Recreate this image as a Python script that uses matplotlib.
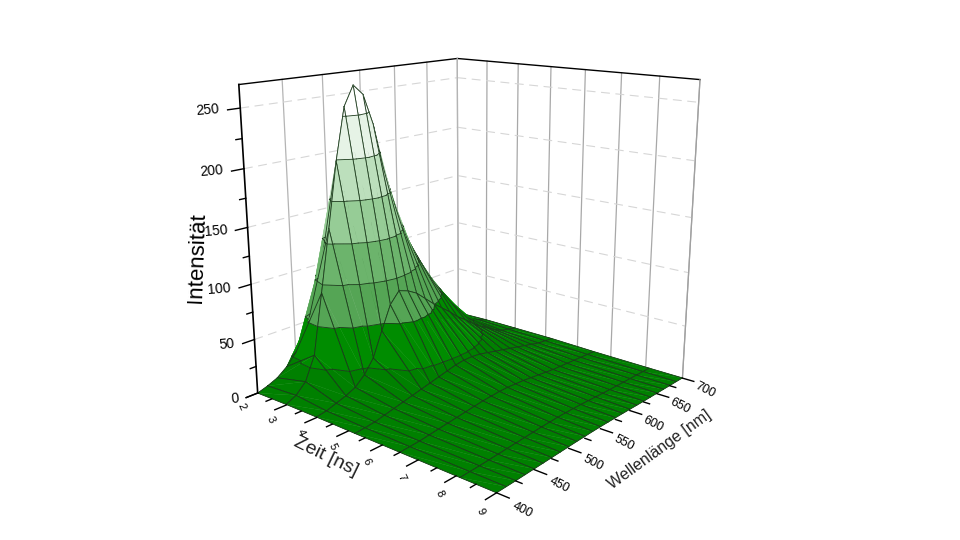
import numpy as np
import matplotlib
matplotlib.use('Agg')
import matplotlib.pyplot as plt
from mpl_toolkits.mplot3d import proj3d
from mpl_toolkits.mplot3d.art3d import Poly3DCollection

plt.rcParams['font.family'] = ['Liberation Sans', 'DejaVu Sans']

# Data
zeit = [2, 3, 4, 5.2, 6.5, 8.1, 9]
wellenlaenge = [400 + 12.5 * i for i in range(25)]
i_t2 = [0, 3, 7, 14, 24, 35, 49, 63, 75, 83, 77, 65, 51, 39, 30, 22, 16, 12, 9, 7, 5, 4, 3, 2, 1]
i_t3 = [0.5, 5, 14, 35, 89, 144, 201, 246, 263, 254, 227, 187, 156, 128, 108, 91, 75, 61, 47, 33, 24, 15, 9, 5, 2]
i_t4 = [0.5, 2, 5, 8, 12, 20, 32, 54, 75, 85, 82, 77, 69, 61, 54, 47, 39, 33, 26, 20, 15, 10, 6, 4, 2]
i_t5 = [0.2, 1, 2, 4, 6, 8, 10, 12, 14, 16, 18, 20, 21, 21, 20, 18, 16, 14, 12, 10, 8, 6, 4, 3, 2]
i_t6 = [0.1, 0.5, 1, 2, 3, 4, 5, 6, 7, 8, 8.5, 9, 9, 8.5, 8, 7, 6, 5, 4, 3.5, 3, 2.5, 2, 1.5, 1]
i_t8 = [0, 0.2, 0.4, 0.8, 1.2, 1.6, 2, 2.4, 2.8, 3.2, 3.4, 3.6, 3.6, 3.4, 3.2, 2.8, 2.4, 2, 1.6, 1.4, 1.2, 1, 0.8, 0.6, 0.4]
i_t9 = [0, 0.1, 0.2, 0.4, 0.6, 0.8, 1, 1.2, 1.4, 1.6, 1.7, 1.8, 1.8, 1.7, 1.6, 1.4, 1.2, 1, 0.8, 0.7, 0.6, 0.5, 0.4, 0.3, 0.2]
levels = [0, 25, 60, 96, 131, 167, 202, 238, 269]
band_colors = ['#008000', '#008c00', '#55a555', '#6cb46c', '#96cc96', '#bcdfbc', '#e6f3e6', '#ffffff']
zeit_ticks = [2, 3, 4, 5, 6, 7, 8, 9]
wl_ticks = [400, 450, 500, 550, 600, 650, 700]
int_ticks = [0, 50, 100, 150, 200, 250]

t_min, t_max, w_min, w_max, z_top = 2, 9, 400, 700, 269

fig = plt.figure(figsize=(9.6, 5.4), dpi=100)
ax = fig.add_axes([202.5 / 960, 28.86 / 540, 528.08 / 960, 528.08 / 540], projection='3d')
ax.set_xlim(t_min, t_max, view_margin=0)
ax.set_ylim(w_min, w_max, view_margin=0)
ax.set_zlim(0, z_top, view_margin=0)
ax.set_axis_off()
ax.view_init(15.704, -49.946, 0)
ax.set_proj_type('persp', focal_length=0.363)
ax.set_box_aspect((1.012, 1.012, 1.015))
ax.computed_zorder = False
M = ax.get_proj()


def label3d(x, y, z, s, ha='center', **kw):
    # plain 2D text at the projected place
    x2, y2, _ = proj3d.proj_transform(x, y, z, M)
    ax.text2D(x2, y2, s, transform=ax.transData, ha=ha, va='center', rotation_mode='anchor', **kw)


# walls
wall = 1
for w in wl_ticks[1:]:
    ax.plot([2, 2], [w, w], [0, z_top], color='#b4b4b4', lw=0.9, zorder=wall)
for t in zeit_ticks[1:]:
    ax.plot([t, t], [700, 700], [0, z_top], color='#a8a8a8', lw=0.9, zorder=wall)
for z in int_ticks[1:]:
    ax.plot([2, 2], [400, 700], [z, z], color='#d6d6d6', lw=0.8, ls=(0, (8, 5)), zorder=wall)
    ax.plot([2, 9], [700, 700], [z, z], color='#d6d6d6', lw=0.8, ls=(0, (8, 5)), zorder=wall)
ax.plot([2, 2, 9], [400, 700, 700], [z_top, z_top, z_top], color='k', lw=1.0, zorder=wall)

# surface, far to near, split into bands
Z = np.array([i_t2, i_t3, i_t4, i_t5, i_t6, i_t8, i_t9], float)


def clip_band(tri, lo, hi):
    poly = list(tri)
    for level, sign in ((lo, 1), (hi, -1)):
        out = []
        for i in range(len(poly)):
            p, q = poly[i], poly[(i + 1) % len(poly)]
            dp, dq = sign * (p[2] - level), sign * (q[2] - level)
            if dp >= 0:
                out.append(p)
            if dp * dq < 0:
                out.append(tuple(np.array(p) + (np.array(q) - np.array(p)) * dp / (dp - dq)))
        poly = out
        if not poly:
            break
    return poly


line_c = '#1c3a1c'
order = 10
for i in range(len(zeit) - 1):
    for j in range(len(wellenlaenge) - 2, -1, -1):
        p00 = (zeit[i], wellenlaenge[j], Z[i, j])
        p01 = (zeit[i], wellenlaenge[j + 1], Z[i, j + 1])
        p10 = (zeit[i + 1], wellenlaenge[j], Z[i + 1, j])
        p11 = (zeit[i + 1], wellenlaenge[j + 1], Z[i + 1, j + 1])
        polys, cols = [], []
        for tri in ((p00, p01, p11), (p00, p11, p10)):
            for b in range(len(band_colors)):
                poly = clip_band(tri, levels[b], levels[b + 1])
                if len(poly) >= 3:
                    polys.append(poly)
                    cols.append(band_colors[b])
        pc = Poly3DCollection(polys, facecolors=cols, edgecolors=cols, linewidths=0.3, zorder=order)
        ax.add_collection3d(pc, autolim=False)
        order += 1
        # contour lines on this quad
        for tri in ((p00, p01, p11), (p00, p11, p10)):
            for lev in levels[1:-1]:
                pts = []
                for m in range(3):
                    p, q = tri[m], tri[(m + 1) % 3]
                    if (p[2] - lev) * (q[2] - lev) < 0:
                        f = (lev - p[2]) / (q[2] - p[2])
                        pts.append(np.array(p) + (np.array(q) - np.array(p)) * f)
                if len(pts) == 2:
                    ax.plot([pts[0][0], pts[1][0]], [pts[0][1], pts[1][1]], [pts[0][2], pts[1][2]],
                            color=line_c, lw=0.6, zorder=order)
        ax.plot([p00[0], p01[0], p11[0], p10[0], p00[0]], [p00[1], p01[1], p11[1], p10[1], p00[1]],
                [p00[2], p01[2], p11[2], p10[2], p00[2]], color=line_c, lw=0.6, zorder=order)
        order += 1

# axes, ticks, labels
top = order + 10
ax.plot([2, 2], [700, 700], [0, z_top], color='#b4b4b4', lw=0.9, zorder=wall)
ax.plot([9, 9], [700, 700], [0, z_top], color='#a0a0a0', lw=0.9, zorder=wall)
ax.plot([2, 2], [400, 400], [0, z_top], color='k', lw=1.2, zorder=top)
for z in range(0, 270, 25):
    ln = 14 if z % 50 == 0 else 7
    ax.plot([2, 2], [400, 400 - ln], [z, z], color='k', lw=1.0, zorder=top)
for z in int_ticks:
    label3d(2, 377, z + 2, str(z), ha='right', fontsize=10, rotation=5, zorder=top)
for t in np.arange(2, 9.1, 0.5):
    ln = 14 if t % 1 == 0 else 7
    ax.plot([t, t], [400, 400 - ln], [0, 0], color='k', lw=1.0, zorder=top)
for t in zeit_ticks:
    label3d(t, 380, -7, str(t), fontsize=8, rotation=-65, zorder=top)
for w in np.arange(400, 701, 25):
    ln = 0.3 if w % 50 == 0 else 0.15
    ax.plot([9, 9 + ln], [w, w], [0, 0], color='k', lw=1.0, zorder=top)
for w in wl_ticks:
    label3d(9.6, w, -5, str(w), fontsize=9, rotation=-27, zorder=top)

fig.text(197 / 960, 1 - 258 / 540, 'Intensität', fontsize=16, rotation=88, ha='center', va='center')
fig.text(326 / 960, 1 - 457 / 540, 'Zeit [ns]', fontsize=14, rotation=-26, ha='center', va='center', color='#222222')
fig.text(660 / 960, 1 - 450 / 540, 'Wellenlänge [nm]', fontsize=11.5, rotation=36, ha='center', va='center', color='#222222')

fig.savefig('out.png', dpi=100)
